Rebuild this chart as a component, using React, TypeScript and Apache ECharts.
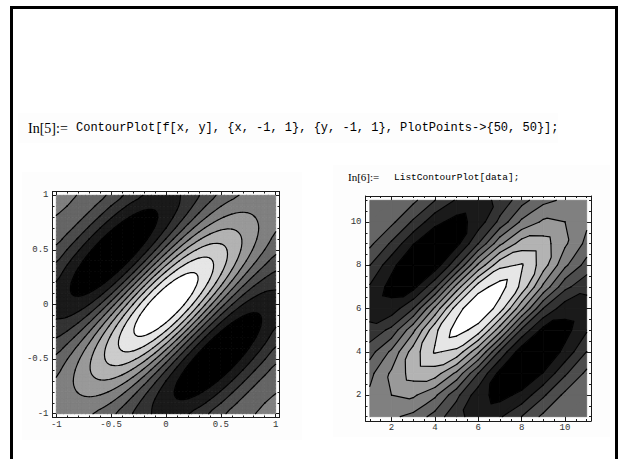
import { useEffect, useRef } from "react";
import * as echarts from "echarts";

// ---------- data ----------
const leftX = [-1, -0.9, -0.8, -0.7, -0.6, -0.5, -0.4, -0.3, -0.2, -0.1, 0, 0.1, 0.2, 0.3, 0.4, 0.5, 0.6, 0.7, 0.8, 0.9, 1];
const leftY = [-1, -0.9, -0.8, -0.7, -0.6, -0.5, -0.4, -0.3, -0.2, -0.1, 0, 0.1, 0.2, 0.3, 0.4, 0.5, 0.6, 0.7, 0.8, 0.9, 1];
// rows from y = -1 (first) to y = 1 (last); columns x = -1 .. 1
const leftZ = [
  [.135, .156, .160, .140, .093, .020, -.071, -.170, -.261, -.329, -.364, -.360, -.317, -.244, -.154, -.060, .023, .085, .123, .137, .130],
  [.156, .198, .224, .225, .193, .125, .027, -.092, -.216, -.325, -.402, -.436, -.423, -.365, -.275, -.170, -.066, .024, .089, .126, .137],
  [.160, .224, .278, .309, .303, .255, .163, .034, -.115, -.263, -.388, -.472, -.501, -.476, -.403, -.298, -.180, -.068, .024, .089, .123],
  [.140, .225, .309, .376, .409, .394, .325, .203, .042, -.138, -.310, -.447, -.532, -.555, -.516, -.428, -.311, -.184, -.068, .024, .085],
  [.093, .193, .303, .409, .487, .519, .491, .397, .243, .049, -.158, -.349, -.494, -.577, -.589, -.537, -.437, -.311, -.180, -.066, .023],
  [.020, .125, .255, .394, .519, .607, .634, .587, .466, .279, .055, -.175, -.378, -.525, -.600, -.601, -.537, -.428, -.298, -.170, -.060],
  [-.071, .027, .163, .325, .491, .634, .726, .744, .676, .525, .308, .060, -.186, -.393, -.535, -.600, -.589, -.516, -.403, -.275, -.154],
  [-.170, -.092, .034, .203, .397, .587, .744, .835, .839, .746, .568, .328, .062, -.190, -.393, -.525, -.577, -.555, -.476, -.365, -.244],
  [-.261, -.216, -.115, .042, .243, .466, .676, .839, .923, .909, .793, .592, .334, .062, -.186, -.378, -.494, -.532, -.501, -.423, -.317],
  [-.329, -.325, -.263, -.138, .049, .279, .525, .746, .909, .980, .945, .809, .592, .328, .060, -.175, -.349, -.447, -.472, -.436, -.360],
  [-.364, -.402, -.388, -.310, -.158, .055, .308, .568, .793, .945, 1, .945, .793, .568, .308, .055, -.158, -.310, -.388, -.402, -.364],
  [-.360, -.436, -.472, -.447, -.349, -.175, .060, .328, .592, .809, .945, .980, .909, .746, .525, .279, .049, -.138, -.263, -.325, -.329],
  [-.317, -.423, -.501, -.532, -.494, -.378, -.186, .062, .334, .592, .793, .909, .923, .839, .676, .466, .243, .042, -.115, -.216, -.261],
  [-.244, -.365, -.476, -.555, -.577, -.525, -.393, -.190, .062, .328, .568, .746, .839, .835, .744, .587, .397, .203, .034, -.092, -.170],
  [-.154, -.275, -.403, -.516, -.589, -.600, -.535, -.393, -.186, .060, .308, .525, .676, .744, .726, .634, .491, .325, .163, .027, -.071],
  [-.060, -.170, -.298, -.428, -.537, -.601, -.600, -.525, -.378, -.175, .055, .279, .466, .587, .634, .607, .519, .394, .255, .125, .020],
  [.023, -.066, -.180, -.311, -.437, -.537, -.589, -.577, -.494, -.349, -.158, .049, .243, .397, .491, .519, .487, .409, .303, .193, .093],
  [.085, .024, -.068, -.184, -.311, -.428, -.516, -.555, -.532, -.447, -.310, -.138, .042, .203, .325, .394, .409, .376, .309, .225, .140],
  [.123, .089, .024, -.068, -.180, -.298, -.403, -.476, -.501, -.472, -.388, -.263, -.115, .034, .163, .255, .303, .309, .278, .224, .160],
  [.137, .126, .089, .024, -.066, -.170, -.275, -.365, -.423, -.436, -.402, -.325, -.216, -.092, .027, .125, .193, .225, .224, .198, .156],
  [.130, .137, .123, .085, .023, -.060, -.154, -.244, -.317, -.360, -.364, -.329, -.261, -.170, -.071, .020, .093, .140, .160, .156, .135],
];

const rightX = [1, 2, 3, 4, 5, 6, 7, 8, 9, 10, 11];
const rightY = [1, 2, 3, 4, 5, 6, 7, 8, 9, 10, 11];
// rows from y = 1 to y = 11; columns x = 1 .. 11
const rightZ = [
  [.135, .160, .093, -.071, -.261, -.364, -.317, -.154, .023, .123, .130],
  [.160, .278, .303, .163, -.115, -.388, -.501, -.403, -.180, .024, .123],
  [.093, .303, .487, .491, .243, -.158, -.494, -.589, -.437, -.180, .023],
  [-.071, .163, .491, .726, .676, .308, -.186, -.535, -.589, -.403, -.154],
  [-.261, -.115, .243, .676, .923, .793, .334, -.186, -.494, -.501, -.317],
  [-.364, -.388, -.158, .308, .793, 1, .793, .308, -.158, -.388, -.364],
  [-.317, -.501, -.494, -.186, .334, .793, .923, .676, .243, -.115, -.261],
  [-.154, -.403, -.589, -.535, -.186, .308, .676, .726, .491, .163, -.071],
  [.023, -.180, -.437, -.589, -.494, -.158, .243, .491, .487, .303, .093],
  [.123, .024, -.180, -.403, -.501, -.388, -.115, .163, .303, .278, .160],
  [.130, .123, .023, -.154, -.317, -.364, -.261, -.071, .093, .160, .135],
];

const leftMajorTicks = [-1, -0.5, 0, 0.5, 1];
const leftMinorTicks = [-0.9, -0.8, -0.7, -0.6, -0.4, -0.3, -0.2, -0.1, 0.1, 0.2, 0.3, 0.4, 0.6, 0.7, 0.8, 0.9];
const rightMajorTicks = [2, 4, 6, 8, 10];
const rightMinorTicks = [1, 1.5, 2.5, 3, 3.5, 4.5, 5, 5.5, 6.5, 7, 7.5, 8.5, 9, 9.5, 10.5, 11];

const line1Prompt = "In[5]:=";
const line1Code = "ContourPlot[f[x, y], {x, -1, 1}, {y, -1, 1}, PlotPoints->{50, 50}];";
const line2Prompt = "In[6]:=";
const line2Code = "ListContourPlot[data];";

const NUM_CONTOURS = 10;

// ---------- helpers ----------
type P = number[];

function clipPoly(poly: P[], level: number, keepAbove: boolean): P[] {
  if (!isFinite(level) || poly.length === 0) return poly;
  const out: P[] = [];
  for (let n = 0; n < poly.length; n++) {
    const a = poly[n];
    const b = poly[(n + 1) % poly.length];
    const ina = keepAbove ? a[2] >= level : a[2] <= level;
    const inb = keepAbove ? b[2] >= level : b[2] <= level;
    if (ina) out.push(a);
    if (ina !== inb) {
      const t = (level - a[2]) / (b[2] - a[2]);
      out.push([a[0] + t * (b[0] - a[0]), a[1] + t * (b[1] - a[1]), level]);
    }
  }
  return out;
}

// one item per grid cell: corner coordinates, corner values, cell indices
function buildCells(X: number[], Y: number[], Z: number[][]) {
  const out: number[][] = [];
  for (let j = 0; j < Y.length - 1; j++) {
    for (let i = 0; i < X.length - 1; i++) {
      out.push([X[i], Y[j], X[i + 1], Y[j + 1], Z[j][i], Z[j][i + 1], Z[j + 1][i + 1], Z[j + 1][i], i, j]);
    }
  }
  return out;
}

function levelsOf(Z: number[][]) {
  let lo = Infinity, hi = -Infinity;
  Z.forEach((r) => r.forEach((v) => { if (v < lo) lo = v; if (v > hi) hi = v; }));
  const step = (hi - lo) / (NUM_CONTOURS + 1);
  const lv: number[] = [];
  for (let k = 1; k <= NUM_CONTOURS; k++) lv.push(lo + k * step + 1e-9);
  return lv;
}

function grays(n: number) {
  const out: string[] = [];
  for (let k = 0; k < n; k++) {
    const g = Math.round((255 * k) / (n - 1));
    out.push(`rgb(${g},${g},${g})`);
  }
  return out;
}

// Renderer-side surface: sub = 1 -> plain linear triangles (ListContourPlot look);
// sub > 1 -> smooth (Catmull-Rom) rendering of the sampled grid, like a smoothed line.
function makeSurface(Z: number[][], sub: number) {
  const ny = Z.length, nx = Z[0].length;
  const at = (i: number, j: number) => Z[Math.max(0, Math.min(ny - 1, j))][Math.max(0, Math.min(nx - 1, i))];
  const cr = (p0: number, p1: number, p2: number, p3: number, t: number) =>
    0.5 * (2 * p1 + (-p0 + p2) * t + (2 * p0 - 5 * p1 + 4 * p2 - p3) * t * t + (-p0 + 3 * p1 - 3 * p2 + p3) * t * t * t);
  const val = (i: number, j: number, u: number, v: number) => {
    const rows: number[] = [];
    for (let m = -1; m <= 2; m++) rows.push(cr(at(i - 1, j + m), at(i, j + m), at(i + 1, j + m), at(i + 2, j + m), u));
    return cr(rows[0], rows[1], rows[2], rows[3], v);
  };
  return (api: any): P[][] => {
    const x0 = api.value(0), y0 = api.value(1), x1 = api.value(2), y1 = api.value(3);
    const i = api.value(8), j = api.value(9);
    const pts: P[][] = [];
    for (let b = 0; b <= sub; b++) {
      const row: P[] = [];
      for (let a = 0; a <= sub; a++) {
        const u = a / sub, v = b / sub;
        let z: number;
        if (sub === 1) z = api.value(a === 0 ? (b === 0 ? 4 : 7) : (b === 0 ? 5 : 6));
        else z = val(i, j, u, v);
        row.push([x0 + (x1 - x0) * u, y0 + (y1 - y0) * v, z]);
      }
      pts.push(row);
    }
    const tris: P[][] = [];
    for (let b = 0; b < sub; b++) {
      for (let a = 0; a < sub; a++) {
        const A = pts[b][a], B = pts[b][a + 1], C = pts[b + 1][a + 1], D = pts[b + 1][a];
        tris.push([A, B, C], [A, C, D]);
      }
    }
    return tris;
  };
}

function toPath(api: any, poly: P[]) {
  let d = "";
  poly.forEach((p, idx) => {
    const c = api.coord([p[0], p[1]]);
    d += (idx ? "L" : "M") + c[0].toFixed(2) + " " + c[1].toFixed(2);
  });
  return d;
}

function fillRenderer(surface: (api: any) => P[][], levels: number[], colors: string[]) {
  return (_params: any, api: any) => {
    const tris = surface(api);
    const children: any[] = [];
    for (let k = 0; k < colors.length; k++) {
      const lo = k === 0 ? -Infinity : levels[k - 1];
      const hi = k === colors.length - 1 ? Infinity : levels[k];
      let d = "";
      for (const t of tris) {
        let poly = clipPoly(t, lo, true);
        poly = clipPoly(poly, hi, false);
        if (poly.length >= 3) d += toPath(api, poly) + "Z";
      }
      if (d) {
        children.push({
          type: "path",
          shape: { pathData: d },
          style: { fill: colors[k], stroke: colors[k], lineWidth: 0.8 },
        });
      }
    }
    return { type: "group", children };
  };
}

function lineRenderer(surface: (api: any) => P[][], levels: number[]) {
  return (_params: any, api: any) => {
    const tris = surface(api);
    let d = "";
    for (const L of levels) {
      for (const t of tris) {
        const pts: P[] = [];
        for (let n = 0; n < 3; n++) {
          const a = t[n], b = t[(n + 1) % 3];
          if ((a[2] - L) * (b[2] - L) < 0) {
            const s = (L - a[2]) / (b[2] - a[2]);
            pts.push([a[0] + s * (b[0] - a[0]), a[1] + s * (b[1] - a[1]), L]);
          }
        }
        if (pts.length === 2) d += toPath(api, pts);
      }
    }
    if (!d) return { type: "group", children: [] };
    return {
      type: "path",
      shape: { pathData: d },
      style: { fill: "none", stroke: "#000", lineWidth: 1.2, lineJoin: "round", lineCap: "round" },
    };
  };
}

const MONO = "'Liberation Mono', 'Courier New', monospace";
const SERIF = "'Liberation Serif', 'Times New Roman', serif";
const FRAME = "#1a1a1a";
const LABEL = "#333";

function frameAxes(gridIndex: number, min: number, max: number, majors: number[], minors: number[], xMargin: number, yMargin: number) {
  const base = {
    gridIndex, type: "value", min, max,
    splitLine: { show: false },
    axisLine: { show: true, onZero: false, lineStyle: { color: FRAME, width: 1 } },
  };
  const label = (margin: number) => ({
    show: true, customValues: majors, margin,
    fontFamily: MONO, fontSize: 9, color: LABEL,
    formatter: (v: number) => String(v),
  });
  const noLabel = { show: false };
  const major = { show: true, inside: true, length: 4, customValues: majors, lineStyle: { color: FRAME, width: 1 } };
  const minor = { show: true, inside: true, length: 2, customValues: minors, lineStyle: { color: FRAME, width: 1 } };
  const xAxis = [
    { ...base, position: "bottom", axisTick: major, axisLabel: label(xMargin) },
    { ...base, position: "bottom", axisLine: { show: false, onZero: false }, axisTick: minor, axisLabel: noLabel },
    { ...base, position: "top", axisTick: major, axisLabel: noLabel },
    { ...base, position: "top", axisLine: { show: false, onZero: false }, axisTick: minor, axisLabel: noLabel },
  ];
  const yAxis = [
    { ...base, position: "left", axisTick: major, axisLabel: label(yMargin) },
    { ...base, position: "left", axisLine: { show: false, onZero: false }, axisTick: minor, axisLabel: noLabel },
    { ...base, position: "right", axisTick: major, axisLabel: noLabel },
    { ...base, position: "right", axisLine: { show: false, onZero: false }, axisTick: minor, axisLabel: noLabel },
  ];
  return { xAxis, yAxis };
}

export default function App() {
  const ref = useRef<HTMLDivElement>(null);

  useEffect(() => {
    if (!ref.current) return;
    const chart = echarts.init(ref.current, undefined, { renderer: "svg" });

    const colors = grays(NUM_CONTOURS + 1);
    const leftLevels = levelsOf(leftZ);
    const rightLevels = levelsOf(rightZ);
    const leftCells = buildCells(leftX, leftY, leftZ);
    const rightCells = buildCells(rightX, rightY, rightZ);
    const leftSurface = makeSurface(leftZ, 3);
    const rightSurface = makeSurface(rightZ, 1);

    const la = frameAxes(0, -1.035, 1.035, leftMajorTicks, leftMinorTicks, 3, 4);
    const ra = frameAxes(1, 0.8, 11.2, rightMajorTicks, rightMinorTicks, 2, 4);

    const bg = "#fdfdfd";

    chart.setOption({
      animation: false,
      backgroundColor: "#ffffff",
      grid: [
        { left: 52.5, top: 191.5, width: 227, height: 226, containLabel: false },
        { left: 365.5, top: 196, width: 225.5, height: 225, containLabel: false },
      ],
      xAxis: [...la.xAxis, ...ra.xAxis],
      yAxis: [...la.yAxis, ...ra.yAxis],
      series: [
        { type: "custom", xAxisIndex: 0, yAxisIndex: 0, data: leftCells, renderItem: fillRenderer(leftSurface, leftLevels, colors), silent: true, z: 2 },
        { type: "custom", xAxisIndex: 0, yAxisIndex: 0, data: leftCells, renderItem: lineRenderer(leftSurface, leftLevels), silent: true, z: 3 },
        { type: "custom", xAxisIndex: 4, yAxisIndex: 4, data: rightCells, renderItem: fillRenderer(rightSurface, rightLevels, colors), silent: true, z: 2 },
        { type: "custom", xAxisIndex: 4, yAxisIndex: 4, data: rightCells, renderItem: lineRenderer(rightSurface, rightLevels), silent: true, z: 3 },
      ],
      graphic: [
        { type: "rect", z: -10, shape: { x: 18, y: 113, width: 540, height: 30 }, style: { fill: bg } },
        { type: "rect", z: -10, shape: { x: 22, y: 172, width: 280, height: 268 }, style: { fill: bg } },
        { type: "rect", z: -10, shape: { x: 333, y: 165, width: 277, height: 272 }, style: { fill: bg } },
        { type: "rect", z: 10, shape: { x: 11.5, y: 7.5, width: 605, height: 480 }, style: { fill: "none", stroke: "#000", lineWidth: 3 } },
        { type: "text", z: 10, style: { text: line1Prompt, x: 28, y: 128, font: `14px ${SERIF}`, fill: "#000", textVerticalAlign: "middle" } },
        { type: "text", z: 10, style: { text: line1Code, x: 76, y: 128, font: `12px ${MONO}`, fill: "#000", textVerticalAlign: "middle" } },
        { type: "text", z: 10, style: { text: line2Prompt, x: 348, y: 177, font: `11px ${SERIF}`, fill: "#000", textVerticalAlign: "middle" } },
        { type: "text", z: 10, style: { text: line2Code, x: 394, y: 177, font: `9.5px ${MONO}`, fill: "#000", textVerticalAlign: "middle" } },
      ],
    });

    return () => chart.dispose();
  }, []);

  return <div ref={ref} style={{ position: "fixed", left: 0, top: 0, width: 623, height: 459 }} />;
}
